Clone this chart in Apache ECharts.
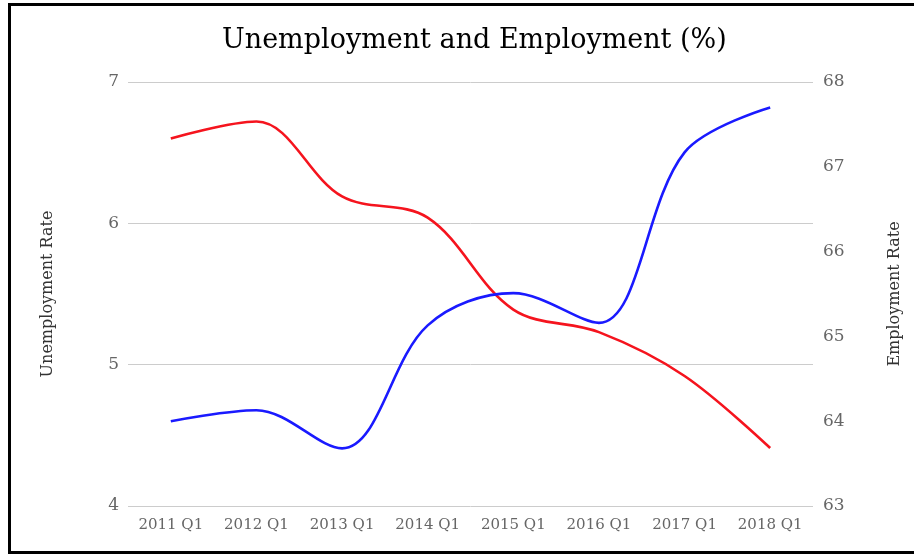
<!DOCTYPE html>
<html>
<head>
<meta charset="utf-8">
<script src="https://cdn.jsdelivr.net/npm/echarts@6/dist/echarts.min.js"></script>
<style>
  html, body { margin: 0; padding: 0; background: #fff; }
  #chart { width: 914px; height: 554px; }
  #frame { position: absolute; left: 8px; top: 3px; width: 920px; height: 545px; border: 3px solid #000; pointer-events: none; }
</style>
</head>
<body>
<div id="chart"></div>
<div id="frame"></div>
<script>
var quarters = ['2011 Q1', '2012 Q1', '2013 Q1', '2014 Q1', '2015 Q1', '2016 Q1', '2017 Q1', '2018 Q1'];
var unemploymentRate = [6.6, 6.72, 6.19, 6.04, 5.39, 5.23, 4.92, 4.41];
var employmentRate = [64.0, 64.13, 63.68, 65.13, 65.51, 65.16, 67.17, 67.7];
var leftTicks = [4, 7, 1];
var rightTicks = [63, 68, 1];

var serif = 'DejaVu Serif';
var labelGray = '#666';

var option = {
  title: {
    text: 'Unemployment and Employment (%)',
    left: 217,
    top: 22,
    textStyle: { fontFamily: serif, fontWeight: 'normal', fontSize: 27, color: '#000' }
  },
  grid: { left: 128, right: 101, top: 82, bottom: 48 },
  xAxis: {
    type: 'category',
    data: quarters,
    axisLine: { show: false },
    axisTick: { show: false },
    axisLabel: { fontFamily: serif, fontSize: 15, color: labelGray, margin: 12 }
  },
  yAxis: [
    {
      type: 'value',
      min: leftTicks[0], max: leftTicks[1], interval: leftTicks[2],
      name: 'Unemployment Rate',
      nameLocation: 'middle',
      nameGap: 72,
      nameTextStyle: { fontFamily: serif, fontSize: 16, color: '#333' },
      axisLine: { show: false },
      axisTick: { show: false },
      axisLabel: { fontFamily: serif, fontSize: 17, color: labelGray, margin: 9 },
      splitLine: { lineStyle: { color: '#ccc', width: 1 } }
    },
    {
      type: 'value',
      min: rightTicks[0], max: rightTicks[1], interval: rightTicks[2],
      name: 'Employment Rate',
      nameLocation: 'middle',
      nameGap: 74,
      nameRotate: 90,
      nameTextStyle: { fontFamily: serif, fontSize: 16, color: '#333' },
      axisLine: { show: false },
      axisTick: { show: false },
      axisLabel: { fontFamily: serif, fontSize: 17, color: labelGray, margin: 10 },
      splitLine: { show: false }
    }
  ],
  series: [
    {
      name: 'Unemployment Rate',
      type: 'line',
      yAxisIndex: 0,
      data: unemploymentRate,
      smooth: 0.35,
      symbol: 'none',
      lineStyle: { color: '#f5141e', width: 2.6 }
    },
    {
      name: 'Employment Rate',
      type: 'line',
      yAxisIndex: 1,
      data: employmentRate,
      smooth: 0.35,
      symbol: 'none',
      lineStyle: { color: '#1a1aff', width: 2.6 }
    }
  ]
};

var myChart = echarts.init(document.getElementById('chart'));
myChart.setOption(option, true);
</script>
</body>
</html>
